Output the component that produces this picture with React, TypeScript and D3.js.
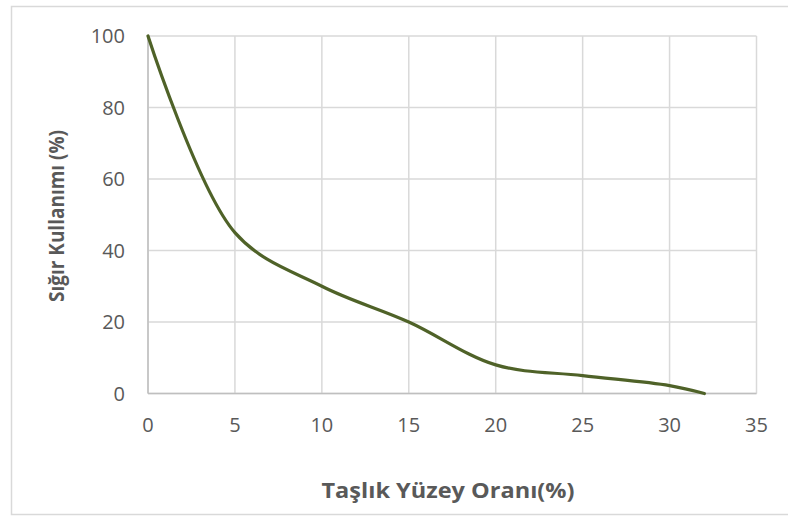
import React from 'react'
import * as d3 from 'd3'

const xValues = [0, 5, 10, 15, 20, 25, 30, 32]
const yValues = [100, 45, 30, 20, 8, 5, 2.2, 0]
const xTicks = [0, 5, 10, 15, 20, 25, 30, 35]
const yTicks = [0, 20, 40, 60, 80, 100]

const xTitle = 'Taşlık Yüzey Oranı(%)'
const yTitle = 'Sığır Kullanımı (%)'

const W = 788
const H = 518
const font = '"Open Sans", "Liberation Sans", sans-serif'

export default function App() {
  const x = d3.scaleLinear().domain([0, 35]).range([148, 756.5])
  const y = d3.scaleLinear().domain([0, 100]).range([393.5, 36])

  const pts: [number, number][] = xValues.map((v, i) => [v, yValues[i]])
  const line = d3
    .line<[number, number]>()
    .x((d) => x(d[0]))
    .y((d) => y(d[1]))
    .curve(d3.curveCatmullRom.alpha(0.5))

  return (
    <svg width={W} height={H} style={{ position: 'absolute', left: 0, top: 0, background: '#fff' }}>
      <rect x={11.5} y={6.5} width={790} height={508} fill="#fff" stroke="#d9d9d9" strokeWidth={1.5} />
      {/* grid */}
      {yTicks.map((t) => (
        <line key={'gy' + t} x1={x(0)} x2={x(35)} y1={y(t)} y2={y(t)} stroke="#d9d9d9" strokeWidth={1.5} />
      ))}
      {xTicks.map((t) => (
        <line key={'gx' + t} x1={x(t)} x2={x(t)} y1={y(0)} y2={y(100)} stroke="#d9d9d9" strokeWidth={1.5} />
      ))}
      {/* axes */}
      <line x1={x(0)} x2={x(0)} y1={y(0)} y2={y(100)} stroke="#bfbfbf" strokeWidth={1.5} />
      <line x1={x(0)} x2={x(35)} y1={y(0)} y2={y(0)} stroke="#bfbfbf" strokeWidth={1.5} />
      {/* tick labels */}
      {yTicks.map((t) => (
        <text key={'ty' + t} x={125} y={y(t)} dy="0.36em" textAnchor="end" fontSize={20} fill="#595959" fontFamily={font}>
          {t}
        </text>
      ))}
      {xTicks.map((t) => (
        <text key={'tx' + t} x={x(t)} y={424.5} dy="0.36em" textAnchor="middle" fontSize={20} fill="#595959" fontFamily={font}>
          {t}
        </text>
      ))}
      {/* series */}
      <path d={line(pts) as string} fill="none" stroke="#4f6228" strokeWidth={3.2} strokeLinecap="round" />
      {/* titles */}
      <text x={448} y={490} dy="0.36em" textAnchor="middle" fontSize={22} fontWeight="bold" fill="#595959" fontFamily={font} textLength={253} lengthAdjust="spacingAndGlyphs">
        {xTitle}
      </text>
      <text
        transform={`translate(56,216) rotate(-90)`}
        dy="0.36em"
        textAnchor="middle"
        fontSize={22}
        fontWeight="bold"
        fill="#595959"
        fontFamily={font}
        textLength={172}
        lengthAdjust="spacingAndGlyphs"
      >
        {yTitle}
      </text>
    </svg>
  )
}
